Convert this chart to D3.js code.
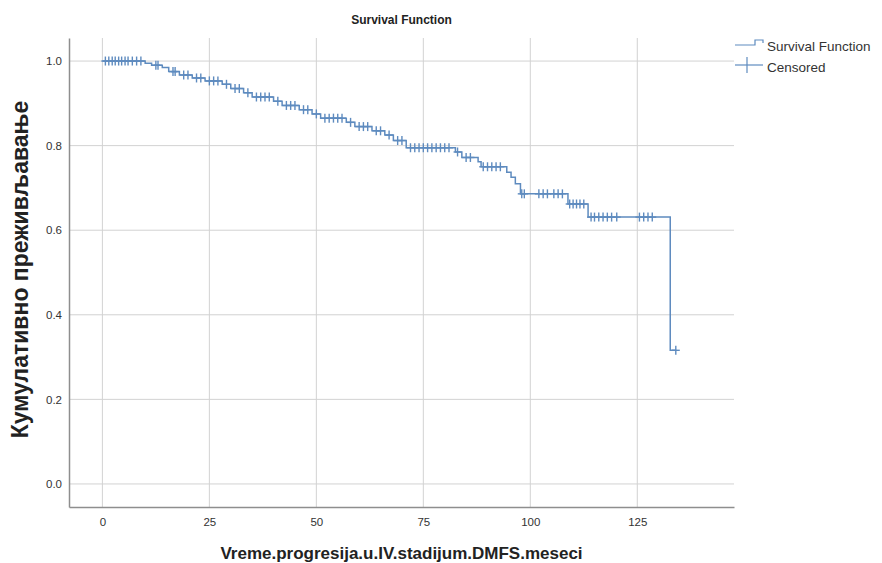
<!DOCTYPE html>
<html>
<head>
<meta charset="utf-8">
<script src="https://cdn.jsdelivr.net/npm/d3@7"></script>
<style>
  html, body { margin: 0; padding: 0; background: #fff; }
  svg { display: block; font-family: "Liberation Sans", Arial, sans-serif; }
</style>
</head>
<body>
<svg id="chart" width="882" height="563"></svg>
<script>
// Kaplan–Meier estimate: times (months) at which survival drops, and the level after each drop
const eventTimes = [10, 11.5, 14, 15.5, 18, 21, 24, 28, 30, 33, 35, 40, 42, 46, 49, 51, 57, 59, 63, 66, 68, 71,
  82.5, 84, 87.8, 88.5, 94.5, 95.5, 96.5, 97.7, 108.8, 113.5, 132.7];
const survival = [0.995, 0.99, 0.985, 0.975, 0.967, 0.96, 0.953, 0.945, 0.935, 0.925, 0.915, 0.905, 0.895, 0.885,
  0.875, 0.865, 0.855, 0.845, 0.835, 0.825, 0.812, 0.795, 0.785, 0.772, 0.762, 0.75, 0.737, 0.725, 0.71, 0.686,
  0.662, 0.631, 0.316];

// censored observations (months)
const censorTimes = [0.7, 1.5, 2.3, 3, 3.8, 4.5, 5.3, 6, 7, 8, 9, 12.5, 13, 16.5, 17, 19, 20, 22, 23, 25, 26, 27,
  29, 31, 32, 34, 36, 37, 38, 39, 41, 43, 44, 45, 47, 48, 50, 52, 53, 54, 55, 56, 58, 60, 61, 62, 64, 65, 67, 69,
  70, 72, 73, 74, 75, 76, 77, 78, 79, 80, 81, 83, 85, 86, 89, 90, 91, 92, 93, 98, 98.6, 102, 103, 104, 105.5,
  106.5, 107.5, 109.2, 110, 110.8, 111.6, 112.5, 114.2, 115, 116, 117, 118, 119, 120.2, 125.5, 126.5, 127.5,
  128.5, 134];

const xTicks = [0, 25, 50, 75, 100, 125];
const yTicks = [0.0, 0.2, 0.4, 0.6, 0.8, 1.0];

const chartTitle = "Survival Function";
const xTitle = "Vreme.progresija.u.IV.stadijum.DMFS.meseci";
const yTitle = "Кумулативно преживљавање";
const legendLabels = ["Survival Function", "Censored"];

const lineColor = "#5e8bbf";

const svg = d3.select("#chart");
const plot = { left: 69, right: 734, top: 38, bottom: 507 };

const x = d3.scaleLinear().domain([-7.8, 147.6]).range([plot.left, plot.right]);
const y = d3.scaleLinear().domain([-0.0545, 1.0545]).range([plot.bottom, plot.top]);

// grid
svg.append("g").selectAll("line").data(xTicks).join("line")
  .attr("x1", d => x(d)).attr("x2", d => x(d))
  .attr("y1", plot.top).attr("y2", plot.bottom)
  .attr("stroke", "#d2d2d2").attr("stroke-width", 1);
svg.append("g").selectAll("line").data(yTicks).join("line")
  .attr("x1", plot.left).attr("x2", plot.right)
  .attr("y1", d => y(d)).attr("y2", d => y(d))
  .attr("stroke", "#d2d2d2").attr("stroke-width", 1);

// axes (labels only, no tick marks)
const xAxis = svg.append("g").attr("transform", `translate(0,${plot.bottom})`)
  .call(d3.axisBottom(x).tickValues(xTicks).tickSize(0).tickPadding(11).tickFormat(d3.format("d")));
const yAxis = svg.append("g").attr("transform", `translate(${plot.left},0)`)
  .call(d3.axisLeft(y).tickValues(yTicks).tickSize(0).tickPadding(7).tickFormat(d3.format(".1f")));
[xAxis, yAxis].forEach(g => {
  g.select(".domain").attr("stroke", "#8e8e8e").attr("stroke-width", 1.5);
  g.selectAll("text").attr("font-size", 11.5).attr("fill", "#333").attr("font-family", "Liberation Sans, Arial, sans-serif");
});

// survival step curve
const stepPoints = [[0, 1]].concat(eventTimes.map((t, i) => [t, survival[i]]));
stepPoints.push([d3.max(censorTimes), survival[survival.length - 1]]);
const line = d3.line().x(d => x(d[0])).y(d => y(d[1])).curve(d3.curveStepAfter);
svg.append("path").datum(stepPoints)
  .attr("d", line).attr("fill", "none")
  .attr("stroke", lineColor).attr("stroke-width", 1.5);

// survival level at a given time
const levelAt = t => {
  const i = d3.bisectRight(eventTimes, t);
  return i === 0 ? 1 : survival[i - 1];
};

// censor marks
const marks = svg.append("g").selectAll("g").data(censorTimes).join("g")
  .attr("transform", d => `translate(${x(d)},${y(levelAt(d))})`);
marks.append("line").attr("x1", 0).attr("x2", 0).attr("y1", -4.5).attr("y2", 4.5)
  .attr("stroke", lineColor).attr("stroke-width", 1.4);
marks.append("line").attr("x1", -4).attr("x2", 4).attr("y1", 0).attr("y2", 0)
  .attr("stroke", lineColor).attr("stroke-width", 1.4);

// titles
svg.append("text").attr("x", (plot.left + plot.right) / 2).attr("y", 24)
  .attr("text-anchor", "middle").attr("font-size", 12).attr("font-weight", "bold").attr("fill", "#222")
  .text(chartTitle);
svg.append("text").attr("x", (plot.left + plot.right) / 2).attr("y", 559)
  .attr("text-anchor", "middle").attr("font-size", 17).attr("font-weight", "bold").attr("fill", "#222")
  .text(xTitle);
svg.append("text").attr("transform", `translate(28,${(plot.top + plot.bottom) / 2 - 3}) rotate(-90)`)
  .attr("text-anchor", "middle").attr("font-size", 23).attr("font-weight", "bold").attr("fill", "#222")
  .text(yTitle);

// legend
const lg = svg.append("g").attr("transform", `translate(${plot.right},0)`);
lg.append("path").attr("d", "M1,45 H21 V40 H29 V43")
  .attr("fill", "none").attr("stroke", lineColor).attr("stroke-width", 1.2);
lg.append("line").attr("x1", 1).attr("x2", 29).attr("y1", 65).attr("y2", 65)
  .attr("stroke", lineColor).attr("stroke-width", 1.2);
lg.append("line").attr("x1", 13).attr("x2", 13).attr("y1", 57).attr("y2", 73)
  .attr("stroke", lineColor).attr("stroke-width", 1.2);
lg.selectAll("text").data(legendLabels).join("text")
  .attr("x", 33).attr("y", (d, i) => 51 + i * 21)
  .attr("font-size", 13.5).attr("fill", "#333")
  .text(d => d);
</script>
</body>
</html>
